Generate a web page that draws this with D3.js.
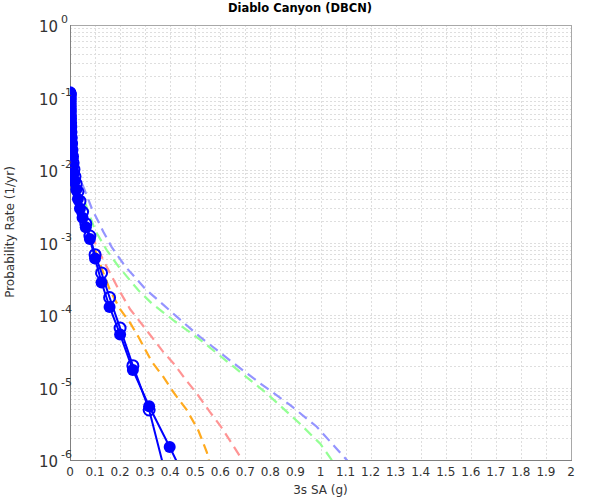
<!DOCTYPE html>
<html>
<head>
<meta charset="utf-8">
<script src="https://cdn.jsdelivr.net/npm/d3@7"></script>
<style>
  body { margin: 0; background: #fff; }
  text { font-family: "DejaVu Sans", sans-serif; }
</style>
</head>
<body>
<div id="chart"></div>
<script>
// Spectral acceleration levels (g) used by the two blue hazard curves.
var saLevels = [0.0001, 0.000126, 0.000158, 0.0002, 0.000251, 0.000316, 0.000398, 0.000501, 0.000631, 0.000794,
    0.001, 0.00126, 0.00158, 0.002, 0.00251, 0.00316, 0.00398, 0.00501, 0.00631, 0.00794,
    0.01, 0.0126, 0.0158, 0.02, 0.0251, 0.0316, 0.0398, 0.0501, 0.0631, 0.0794,
    0.1, 0.126, 0.158, 0.2, 0.251, 0.316, 0.398, 0.501];

// Filled-circle curve (rate per year)
var filledRates = [0.115, 0.112, 0.110, 0.107, 0.102, 0.0977, 0.0933, 0.0871, 0.0813, 0.0759,
    0.0692, 0.0631, 0.0562, 0.0501, 0.0437, 0.0380, 0.0324, 0.0269, 0.0224, 0.0182,
    0.0145, 0.0115, 0.00912, 0.00708, 0.00537, 0.00398, 0.00295, 0.00219, 0.00162, 0.00112,
    6.0e-4, 2.8e-4, 1.29e-4, 5.4e-5, 1.74e-5, 5.5e-6, 1.51e-6, 2.8e-7];

// Open-circle curve
var openRates = [0.116, 0.113, 0.111, 0.108, 0.104, 0.0990, 0.0945, 0.0885, 0.0825, 0.0770,
    0.0705, 0.0645, 0.0575, 0.0515, 0.0450, 0.0392, 0.0335, 0.0280, 0.0234, 0.0190,
    0.0154, 0.0126, 0.0102, 0.00813, 0.00646, 0.00501, 0.00372, 0.00263, 0.00182, 0.00123,
    6.8e-4, 3.8e-4, 1.74e-4, 6.6e-5, 2.0e-5, 4.9e-6, 3.8e-7, 1.0e-8];

// Dashed curves, each with its own points
var blueDashX = [0.05, 0.087, 0.133, 0.166, 0.22, 0.3, 0.426, 0.519, 0.651, 0.758, 0.878, 0.985, 1.058, 1.105, 1.15];
var blueDashY = [6.3e-3, 2.95e-3, 1.41e-3, 8.7e-4, 4.7e-4, 2.3e-4, 9.5e-5, 5.0e-5, 2.19e-5, 1.15e-5, 5.75e-6, 2.88e-6, 1.51e-6, 1.0e-6, 6.3e-7];

var greenDashX = [0.06, 0.1, 0.146, 0.193, 0.273, 0.326, 0.412, 0.519, 0.652, 0.785, 0.918, 1.0, 1.045, 1.08];
var greenDashY = [3.55e-3, 1.48e-3, 7.9e-4, 4.7e-4, 2.19e-4, 1.45e-4, 8.5e-5, 4.57e-5, 1.95e-5, 8.3e-6, 3.16e-6, 1.66e-6, 1.0e-6, 6.3e-7];

var redDashX = [0.087, 0.107, 0.14, 0.193, 0.24, 0.299, 0.372, 0.419, 0.459, 0.506, 0.559, 0.599, 0.64, 0.679, 0.72];
var redDashY = [1.26e-3, 8.7e-4, 5.1e-4, 2.29e-4, 1.2e-4, 6.6e-5, 3.1e-5, 2.04e-5, 1.32e-5, 8.3e-6, 4.57e-6, 3.0e-6, 1.82e-6, 1.12e-6, 6.3e-7];

var orangeDashX = [0.1, 0.133, 0.16, 0.2, 0.24, 0.273, 0.326, 0.372, 0.412, 0.466, 0.512, 0.546, 0.565];
var orangeDashY = [7.9e-4, 3.8e-4, 2.19e-4, 1.2e-4, 7.8e-5, 5.0e-5, 2.29e-5, 1.41e-5, 8.7e-6, 4.9e-6, 2.57e-6, 1.29e-6, 7.0e-7];

var xTicks = [0, 0.1, 0.2, 0.3, 0.4, 0.5, 0.6, 0.7, 0.8, 0.9, 1, 1.1, 1.2, 1.3, 1.4, 1.5, 1.6, 1.7, 1.8, 1.9, 2];
var yExponents = [0, -1, -2, -3, -4, -5, -6];

var width = 600,
    height = 500;
var margin = ({ top: 25, right: 29, bottom: 40, left: 70 }),
    iwidth = width - margin.left - margin.right,
    iheight = height - margin.top - margin.bottom;

var svg = d3.select("#chart").append("svg")
    .attr("width", width)
    .attr("height", height);

var x = d3.scaleLinear().domain([0, 2]).range([0, iwidth]);
var y = d3.scaleLog().domain([1e-6, 1]).range([iheight, 0]);

svg.append("defs").append("clipPath").attr("id", "plotClip")
    .append("rect").attr("width", iwidth).attr("height", iheight);

var g = svg.append("g")
    .attr("transform", `translate(${margin.left}, ${margin.top})`);

// grid
var hGrid = [];
yExponents.forEach(function(e) {
    if (e === 0) return;
    for (var k = 1; k <= 9; k++) hGrid.push(k * Math.pow(10, e));
});
g.selectAll(".hgrid").data(hGrid).enter().append("line")
    .attr("x1", 0).attr("x2", iwidth)
    .attr("y1", function(d) { return Math.round(y(d)) + 0.5; })
    .attr("y2", function(d) { return Math.round(y(d)) + 0.5; })
    .attr("stroke", "#dedede").attr("stroke-dasharray", "2,2");
g.selectAll(".vgrid").data(xTicks.slice(1, -1)).enter().append("line")
    .attr("y1", 0).attr("y2", iheight)
    .attr("x1", function(d) { return Math.round(x(d)) + 0.5; })
    .attr("x2", function(d) { return Math.round(x(d)) + 0.5; })
    .attr("stroke", "#dedede").attr("stroke-dasharray", "2,2");

// frame
g.append("rect").attr("x", 0.5).attr("y", 0.5)
    .attr("width", iwidth).attr("height", iheight)
    .attr("fill", "none").attr("stroke", "#a8a8a8");
g.append("line").attr("x1", 0.5).attr("x2", 0.5).attr("y1", 0).attr("y2", iheight + 1)
    .attr("stroke", "#808080");
g.append("line").attr("x1", 0).attr("x2", iwidth + 1).attr("y1", iheight + 0.5).attr("y2", iheight + 0.5)
    .attr("stroke", "#808080");

var plot = g.append("g").attr("clip-path", "url(#plotClip)");

var line = d3.line()
    .x(function(d) { return x(d[0]); })
    .y(function(d) { return y(d[1]); });

var dashed = [
    { xs: blueDashX, ys: blueDashY, color: "#9494ff" },
    { xs: greenDashX, ys: greenDashY, color: "#94ff94" },
    { xs: redDashX, ys: redDashY, color: "#ff9494" },
    { xs: orangeDashX, ys: orangeDashY, color: "#ffaa1e" }
];
dashed.forEach(function(s) {
    plot.append("path")
        .datum(d3.zip(s.xs, s.ys))
        .attr("d", line)
        .attr("fill", "none")
        .attr("stroke", s.color)
        .attr("stroke-width", 2.2)
        .attr("stroke-dasharray", "10,6");
});

// blue curves
var openPts = d3.zip(saLevels, openRates);
var filledPts = d3.zip(saLevels, filledRates);

plot.append("path").datum(openPts).attr("d", line)
    .attr("fill", "none").attr("stroke", "#0000ff").attr("stroke-width", 2);
plot.selectAll(".openpt").data(openPts).enter().append("circle")
    .attr("cx", function(d) { return x(d[0]); })
    .attr("cy", function(d) { return y(d[1]); })
    .attr("r", 5.5)
    .attr("fill", "none").attr("stroke", "#0000ff").attr("stroke-width", 2);

plot.append("path").datum(filledPts).attr("d", line)
    .attr("fill", "none").attr("stroke", "#0000ff").attr("stroke-width", 2);
plot.selectAll(".filledpt").data(filledPts).enter().append("circle")
    .attr("cx", function(d) { return x(d[0]); })
    .attr("cy", function(d) { return y(d[1]); })
    .attr("r", 6)
    .attr("fill", "#0000ff");

// x tick labels
g.selectAll(".xlab").data(xTicks).enter().append("text")
    .attr("x", function(d) { return x(d); })
    .attr("y", iheight + 16)
    .attr("text-anchor", "middle")
    .attr("font-size", 12)
    .attr("fill", "#333")
    .text(function(d) { return d3.format("~g")(d); });

// y tick labels, 10 with superscript exponent
var ylab = g.selectAll(".ylab").data(yExponents).enter().append("text")
    .attr("x", -31)
    .attr("y", function(d) { return y(Math.pow(10, d)) + 7; })
    .attr("fill", "#333")
    .attr("font-size", 15);
ylab.append("tspan").text("10");
ylab.append("tspan")
    .attr("dx", 3)
    .attr("dy", -9)
    .attr("font-size", 11)
    .text(function(d) { return d === 0 ? "0" : "-" + (-d); });

// titles
svg.append("text")
    .attr("x", 300).attr("y", 12)
    .attr("text-anchor", "middle")
    .attr("font-size", 11.5).attr("font-weight", "bold")
    .text("Diablo Canyon (DBCN)");
svg.append("text")
    .attr("x", margin.left + iwidth / 2).attr("y", 494)
    .attr("text-anchor", "middle")
    .attr("font-size", 12).attr("fill", "#333")
    .text("3s SA (g)");
svg.append("text")
    .attr("transform", "translate(14, 232) rotate(-90)")
    .attr("text-anchor", "middle")
    .attr("font-size", 12).attr("fill", "#333")
    .text("Probability Rate (1/yr)");
</script>
</body>
</html>
